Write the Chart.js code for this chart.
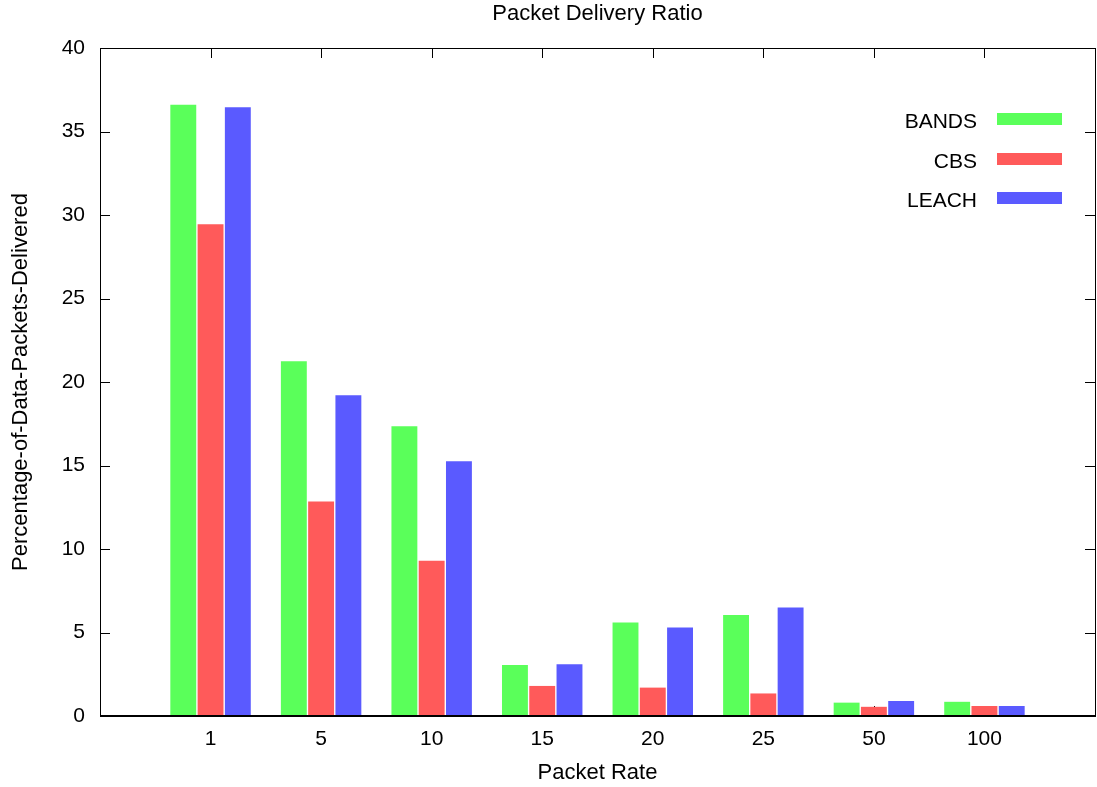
<!DOCTYPE html>
<html>
<head>
<meta charset="utf-8">
<title>Packet Delivery Ratio</title>
<script src="https://cdn.jsdelivr.net/npm/chart.js@4.4.1/dist/chart.umd.min.js"></script>
<style>
  body { margin: 0; background: #fff; }
  canvas { display: block; }
</style>
</head>
<body>
<canvas id="barChart" width="1097" height="787"></canvas>
<script>
// values
var rates = ["1", "5", "10", "15", "20", "25", "50", "100"];
var bands = [36.6, 21.25, 17.35, 3.05, 5.6, 6.05, 0.8, 0.85];
var cbs   = [29.45, 12.85, 9.3, 1.8, 1.7, 1.35, 0.55, 0.6];
var leach = [36.45, 19.2, 15.25, 3.1, 5.3, 6.5, 0.9, 0.6];
var yTicks = [0, 5, 10, 15, 20, 25, 30, 35, 40];

var fontFam = "'Liberation Sans', Arial, Helvetica, sans-serif";

function toPoints(arr) {
  return arr.map(function (v, i) { return { x: i, y: v }; });
}

// gnuplot style frame, inward ticks and key
var gnuplotBits = {
  id: 'gnuplotBits',
  beforeDatasetsDraw: function (chart) {
    var ctx = chart.ctx, a = chart.chartArea;
    var xs = chart.scales.x, ys = chart.scales.y;
    ctx.save();
    ctx.strokeStyle = '#000';
    ctx.lineWidth = 1;
    ctx.beginPath();
    xs.ticks.forEach(function (t) {
      var px = Math.round(xs.getPixelForValue(t.value)) + 0.5;
      ctx.moveTo(px, a.top); ctx.lineTo(px, a.top + 10);
      ctx.moveTo(px, a.bottom); ctx.lineTo(px, a.bottom - 10);
    });
    ys.ticks.forEach(function (t) {
      var py = Math.round(ys.getPixelForValue(t.value)) + 0.5;
      ctx.moveTo(a.left, py); ctx.lineTo(a.left + 10, py);
      ctx.moveTo(a.right, py); ctx.lineTo(a.right - 10, py);
    });
    ctx.stroke();
    ctx.restore();
  },
  afterDatasetsDraw: function (chart) {
    var ctx = chart.ctx, a = chart.chartArea;
    ctx.save();
    ctx.strokeStyle = '#000';
    ctx.lineWidth = 1;
    ctx.strokeRect(Math.round(a.left) + 0.5, Math.round(a.top) + 0.5,
      Math.round(a.right - a.left), Math.round(a.bottom - a.top));
    ctx.lineWidth = 2;
    ctx.beginPath();
    ctx.moveTo(a.left, Math.round(a.bottom));
    ctx.lineTo(a.right, Math.round(a.bottom));
    ctx.stroke();

    // key, top right inside the plot
    var rows = [128, 168, 207];
    ctx.font = '21px ' + fontFam;
    ctx.textAlign = 'right';
    ctx.textBaseline = 'alphabetic';
    chart.data.datasets.forEach(function (ds, i) {
      ctx.fillStyle = '#000';
      ctx.fillText(ds.label, 977, rows[i]);
      ctx.fillStyle = ds.backgroundColor;
      ctx.fillRect(997, rows[i] - 15, 65, 12);
    });
    ctx.restore();
  }
};

window.onload = function () {
  var ctx = document.getElementById('barChart').getContext('2d');
  Chart.defaults.font.family = fontFam;
  Chart.defaults.color = '#000';

  var myBarChart = new Chart(ctx, {
    type: 'bar',
    data: {
      datasets: [
        { label: 'BANDS', data: toPoints(bands), backgroundColor: 'rgb(90,255,90)' },
        { label: 'CBS',   data: toPoints(cbs),   backgroundColor: 'rgb(255,90,90)' },
        { label: 'LEACH', data: toPoints(leach), backgroundColor: 'rgb(90,90,255)' }
      ]
    },
    options: {
      responsive: false,
      animation: false,
      layout: { padding: { left: 0, right: 2, top: 0, bottom: 0 } },
      datasets: {
        bar: { categoryPercentage: 0.74, barPercentage: 0.95, borderWidth: 0 }
      },
      plugins: {
        legend: { display: false },
        tooltip: { enabled: false },
        title: {
          display: true,
          fullSize: false,
          text: 'Packet Delivery Ratio',
          color: '#000',
          font: { size: 22, weight: 'normal', family: fontFam },
          padding: { top: 0.5, bottom: 21.1 }
        }
      },
      scales: {
        x: {
          type: 'linear',
          offset: false,
          min: -1,
          max: 8,
          grid: { display: false, drawTicks: false, offset: false },
          border: { display: false },
          afterBuildTicks: function (axis) {
            axis.ticks = rates.map(function (r, i) { return { value: i }; });
          },
          afterFit: function (scale) { scale.height = 71; },
          ticks: {
            autoSkip: false,
            maxRotation: 0,
            padding: 11,
            font: { size: 21 },
            callback: function (value) { return rates[value]; }
          },
          title: {
            display: true,
            text: 'Packet Rate',
            font: { size: 22 },
            padding: { top: 0, bottom: 0.8 }
          }
        },
        y: {
          min: 0,
          max: 40,
          grid: { display: false, drawTicks: false },
          border: { display: false },
          afterBuildTicks: function (axis) {
            axis.ticks = yTicks.map(function (v) { return { value: v }; });
          },
          afterFit: function (scale) { scale.width = 100; },
          ticks: { padding: 15, font: { size: 21 } },
          title: {
            display: true,
            text: 'Percentage-of-Data-Packets-Delivered',
            font: { size: 22 },
            padding: { top: 7.8, bottom: 1 }
          }
        }
      }
    },
    plugins: [gnuplotBits]
  });
};
</script>
</body>
</html>
